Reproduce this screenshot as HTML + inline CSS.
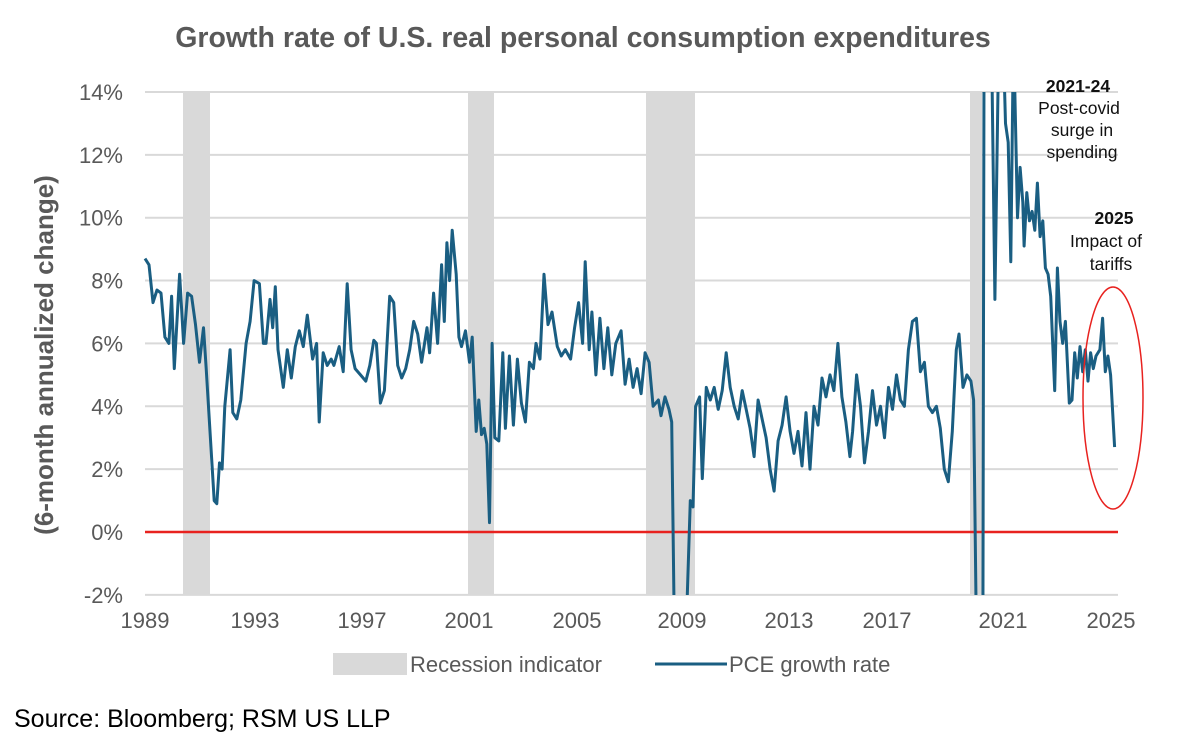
<!DOCTYPE html>
<html><head><meta charset="utf-8"><style>
body{margin:0;background:#fff;font-family:"Liberation Sans",Arial,sans-serif;}
svg text{font-family:"Liberation Sans",Arial,sans-serif;}
</style></head><body>
<svg id="s" width="1200" height="744" viewBox="0 0 1200 744" xmlns="http://www.w3.org/2000/svg">
<text x="583" y="47" text-anchor="middle" font-size="28.5" font-weight="bold" fill="#595959">Growth rate of U.S. real personal consumption expenditures</text>
<g id="grid" stroke="#d9d9d9" stroke-width="2"></g>
<g fill="#d9d9d9">
<rect x="183" y="92" width="27" height="503"/>
<rect x="468" y="92" width="26" height="503"/>
<rect x="646" y="92" width="49" height="503"/>
<rect x="970" y="92" width="12" height="503"/>
</g>
<line x1="145" x2="1118" y1="532" y2="532" stroke="#e8221f" stroke-width="2.5"/>
<defs><clipPath id="c"><rect x="140" y="92" width="990" height="503"/></clipPath></defs>
<path id="line" clip-path="url(#c)" fill="none" stroke="#1a5e82" stroke-width="3" stroke-linejoin="round"/>
<g id="ylab" font-size="22" fill="#595959" text-anchor="end"></g>
<g font-size="22" fill="#595959" text-anchor="middle">
<text x="145" y="628">1989</text><text x="255" y="628">1993</text><text x="362" y="628">1997</text>
<text x="469" y="628">2001</text><text x="577" y="628">2005</text><text x="682" y="628">2009</text>
<text x="789" y="628">2013</text><text x="887" y="628">2017</text><text x="1003" y="628">2021</text>
<text x="1111" y="628">2025</text>
</g>
<text transform="translate(53,355) rotate(-90)" text-anchor="middle" font-size="26" font-weight="bold" fill="#595959">(6-month annualized change)</text>
<ellipse cx="1113" cy="398" rx="30" ry="111" fill="none" stroke="#e8221f" stroke-width="1.5"/>
<g font-size="17.5" fill="#111" text-anchor="middle">
<text x="1078" y="92" font-weight="bold">2021-24</text>
<text x="1079" y="114">Post-covid</text>
<text x="1082" y="136">surge in</text>
<text x="1082" y="158">spending</text>
<text x="1114" y="224" font-weight="bold">2025</text>
<text x="1106" y="247">Impact of</text>
<text x="1111" y="270">tariffs</text>
</g>
<rect x="333" y="653" width="74" height="22" fill="#d9d9d9"/>
<text x="410" y="672" font-size="22" fill="#595959">Recession indicator</text>
<line x1="655" x2="727" y1="664" y2="664" stroke="#1a5e82" stroke-width="3"/>
<text x="729" y="672" font-size="22" fill="#595959">PCE growth rate</text>
<text x="14" y="727" font-size="25" fill="#000">Source: Bloomberg; RSM US LLP</text>
</svg>
<script>
var g=document.getElementById('grid'),yl=document.getElementById('ylab');
function Y(v){return 532-v*31.43;}
for(var v=-2;v<=14;v+=2){if(v!==0){var l=document.createElementNS('http://www.w3.org/2000/svg','line');l.setAttribute('x1',145);l.setAttribute('x2',1118);l.setAttribute('y1',Y(v));l.setAttribute('y2',Y(v));g.appendChild(l);}
var t=document.createElementNS('http://www.w3.org/2000/svg','text');t.setAttribute('x',123);t.setAttribute('y',Y(v)+8);t.textContent=v+'%';yl.appendChild(t);}
var d=[1989.0,8.7,1989.15,8.5,1989.3,7.3,1989.45,7.7,1989.6,7.6,1989.75,6.2,1989.9,6.0,1990.0,7.5,1990.1,5.2,1990.3,8.2,1990.45,6.0,1990.6,7.6,1990.75,7.5,1990.9,6.6,1991.05,5.4,1991.2,6.5,1991.3,5.2,1991.6,1.0,1991.7,0.9,1991.8,2.2,1991.9,2.0,1992.0,4.0,1992.2,5.8,1992.3,3.8,1992.45,3.6,1992.6,4.2,1992.8,6.0,1992.95,6.7,1993.1,8.0,1993.3,7.9,1993.45,6.0,1993.55,6.0,1993.7,7.4,1993.8,6.5,1993.9,7.8,1994.0,5.8,1994.2,4.6,1994.35,5.8,1994.5,4.9,1994.65,5.9,1994.8,6.4,1994.95,5.9,1995.1,6.9,1995.3,5.5,1995.45,6.0,1995.55,3.5,1995.7,5.7,1995.85,5.3,1996.0,5.5,1996.1,5.3,1996.3,5.9,1996.45,5.1,1996.6,7.9,1996.75,5.8,1996.9,5.2,1997.1,5.0,1997.3,4.8,1997.45,5.3,1997.6,6.1,1997.7,6.0,1997.85,4.1,1998.0,4.5,1998.2,7.5,1998.35,7.3,1998.5,5.3,1998.65,4.9,1998.8,5.2,1998.95,5.8,1999.1,6.7,1999.25,6.3,1999.4,5.4,1999.6,6.5,1999.7,5.7,1999.85,7.6,2000.0,6.0,2000.15,8.5,2000.25,6.7,2000.35,9.2,2000.45,8.0,2000.55,9.6,2000.7,8.2,2000.8,6.2,2000.9,5.9,2001.05,6.4,2001.2,5.4,2001.3,6.2,2001.45,3.2,2001.55,4.2,2001.65,3.1,2001.75,3.3,2001.85,2.8,2001.95,0.3,2002.05,6.0,2002.15,3.0,2002.3,2.9,2002.45,5.7,2002.55,3.3,2002.7,5.6,2002.85,3.4,2003.0,5.5,2003.15,4.1,2003.3,3.5,2003.45,5.4,2003.6,5.2,2003.7,6.0,2003.85,5.5,2004.0,8.2,2004.15,6.6,2004.3,7.0,2004.5,5.9,2004.65,5.6,2004.8,5.8,2005.0,5.5,2005.15,6.5,2005.3,7.3,2005.45,6.0,2005.55,8.6,2005.7,5.8,2005.8,7.0,2005.95,5.0,2006.1,6.8,2006.25,5.2,2006.4,6.5,2006.55,5.0,2006.7,6.0,2006.9,6.4,2007.05,4.7,2007.2,5.5,2007.35,4.6,2007.5,5.2,2007.65,4.4,2007.8,5.7,2007.95,5.4,2008.1,4.0,2008.3,4.2,2008.4,3.7,2008.55,4.3,2008.7,3.9,2008.8,3.5,2008.9,-3,2009.35,-3,2009.5,1.0,2009.6,0.8,2009.7,4.0,2009.85,4.3,2009.95,1.7,2010.1,4.6,2010.25,4.2,2010.4,4.6,2010.55,3.9,2010.7,4.5,2010.85,5.7,2011.0,4.6,2011.15,4.0,2011.3,3.6,2011.45,4.5,2011.6,3.9,2011.75,3.3,2011.9,2.4,2012.05,4.2,2012.2,3.6,2012.35,3.0,2012.5,2.0,2012.65,1.3,2012.8,2.9,2012.95,3.4,2013.1,4.3,2013.25,3.2,2013.4,2.5,2013.55,3.2,2013.7,2.1,2013.85,3.8,2014.0,2.0,2014.15,4.0,2014.3,3.4,2014.45,4.9,2014.6,4.3,2014.75,5.0,2014.9,4.5,2015.05,6.0,2015.2,4.3,2015.35,3.5,2015.5,2.4,2015.6,3.2,2015.75,5.0,2015.9,4.0,2016.05,2.2,2016.2,3.2,2016.35,4.5,2016.5,3.4,2016.65,4.0,2016.8,3.0,2016.95,4.6,2017.1,3.9,2017.25,5.0,2017.4,4.2,2017.55,4.0,2017.7,5.8,2017.85,6.7,2018.0,6.8,2018.15,5.1,2018.3,5.4,2018.45,4.0,2018.6,3.8,2018.75,4.0,2018.9,3.3,2019.05,2.0,2019.2,1.6,2019.35,3.2,2019.5,5.8,2019.6,6.3,2019.75,4.6,2019.9,5.0,2020.05,4.8,2020.15,4.2,2020.25,-3,2020.5,-3,2020.55,18,2020.75,18,2020.85,14,2020.95,7.4,2021.1,16,2021.25,16,2021.35,13,2021.45,12.4,2021.55,8.6,2021.65,16,2021.8,10,2021.9,11.6,2022.0,10.5,2022.05,9.1,2022.15,10.8,2022.25,9.9,2022.35,10.2,2022.45,9.6,2022.55,11.1,2022.65,9.4,2022.75,9.9,2022.85,8.4,2022.95,8.2,2023.05,7.5,2023.2,4.5,2023.3,8.4,2023.4,6.7,2023.5,6.0,2023.6,6.7,2023.75,4.1,2023.85,4.2,2023.95,5.7,2024.05,4.9,2024.15,5.9,2024.25,5.1,2024.35,5.8,2024.45,4.8,2024.55,5.7,2024.65,5.2,2024.75,5.6,2024.9,5.8,2025.0,6.8,2025.1,5.1,2025.2,5.6,2025.3,5.0,2025.45,2.7];
var p='';for(var i=0;i<d.length;i+=2){var x=145+(d[i]-1989)*26.6;p+=(i?'L':'M')+x.toFixed(1)+' '+Y(d[i+1]).toFixed(1);}
document.getElementById('line').setAttribute('d',p);
</script>
</body></html>
